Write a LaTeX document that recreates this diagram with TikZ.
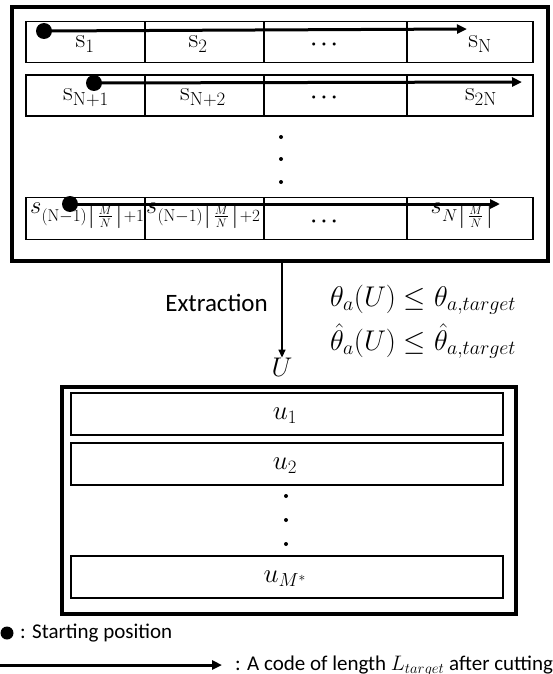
\RequirePackage{fix-cm}
\documentclass[tikz,border=0pt]{standalone}
\usepackage[no-math]{fontspec}
\usepackage{amsmath}
\newfontfamily\calibri{Carlito}
\usetikzlibrary{arrows.meta}
\begin{document}
\begin{tikzpicture}[x=1pt,y=-1pt,
  outerbox/.style={draw, line width=3.3pt, inner sep=0pt},
  cellbox/.style={draw, line width=1.3pt, inner sep=0pt, minimum height=41pt},
  urow/.style={draw, line width=1.8pt, inner sep=0pt, minimum width=432pt, minimum height=42pt},
  codearrow/.style={line width=3pt, -{Triangle[length=10pt,width=9pt]}},
  startdot/.style={circle, fill, inner sep=0pt, minimum size=16pt},
  vdot/.style={circle, fill, inner sep=0pt, minimum size=4pt},
  slbl/.style={inner sep=0pt, font=\fontsize{27}{30}\selectfont},
  dotslbl/.style={inner sep=0pt, font=\fontsize{20}{24}\selectfont},
  bigsub/.style={inner sep=0pt, font=\fontsize{24.5}{28}\selectfont},
  ulbl/.style={inner sep=0pt, font=\fontsize{27}{30}\selectfont},
  sans/.style={inner sep=0pt, font=\calibri\fontsize{25}{28}\selectfont},
  legend/.style={inner sep=0pt, font=\calibri\fontsize{21}{25}\selectfont},
  formula/.style={inner sep=0pt, font=\fontsize{28.5}{32}\selectfont},
]
\useasboundingbox (0,0) rectangle (552,674);

% ---------- top box ----------
\node[outerbox, minimum width=536pt, minimum height=254pt] (topbox) at (280,134) {};

% row 1
\node[cellbox, minimum width=119pt] (r1c1) at (85.5,42) {};
\node[cellbox, minimum width=119pt] (r1c2) at (204.5,42) {};
\node[cellbox, minimum width=143pt] (r1c3) at (335.5,42) {};
\node[cellbox, minimum width=126pt] (r1c4) at (470,42) {};
\node[slbl, anchor=base] (s1) at (85,48) {$\mathrm{s}_{1}$};
\node[slbl, anchor=base] (s2) at (198,48) {$\mathrm{s}_{2}$};
\node[dotslbl] (d1) at (326,45) {$\boldsymbol{\cdots}$};
\node[slbl, anchor=base] (sN) at (480,48) {$\mathrm{s}_{\mathrm{N}}$};

% row 2
\node[cellbox, minimum width=119pt] (r2c1) at (85.5,95.5) {};
\node[cellbox, minimum width=119pt] (r2c2) at (204.5,95.5) {};
\node[cellbox, minimum width=143pt] (r2c3) at (335.5,95.5) {};
\node[cellbox, minimum width=126pt] (r2c4) at (470,95.5) {};
\node[slbl, anchor=base] (sN1) at (86,101) {$\mathrm{s}_{\mathrm{N}+1}$};
\node[slbl, anchor=base] (sN2) at (203,101) {$\mathrm{s}_{\mathrm{N}+2}$};
\node[dotslbl] (d2) at (326,98) {$\boldsymbol{\cdots}$};
\node[slbl, anchor=base] (s2N) at (481,101) {$\mathrm{s}_{2\mathrm{N}}$};

% vertical dots
\node[vdot] (tv1) at (281,137) {};
\node[vdot] (tv2) at (281,159) {};
\node[vdot] (tv3) at (281,182) {};

% row 3
\node[cellbox, minimum width=119pt, minimum height=42pt] (r3c1) at (85.5,218.5) {};
\node[cellbox, minimum width=119pt, minimum height=42pt] (r3c2) at (204.5,218.5) {};
\node[cellbox, minimum width=143pt, minimum height=42pt] (r3c3) at (335.5,218.5) {};
\node[cellbox, minimum width=126pt, minimum height=42pt] (r3c4) at (470,218.5) {};
\node[bigsub, anchor=base west] (sk1) at (30,213) {$s_{(\mathrm{N}-1)\left\lceil\frac{M}{N}\right\rceil+1}$};
\node[bigsub, anchor=base west] (sk2) at (146,213) {$s_{(\mathrm{N}-1)\left\lceil\frac{M}{N}\right\rceil+2}$};
\node[dotslbl] (d3) at (326,222) {$\boldsymbol{\cdots}$};
\node[bigsub, anchor=base east] (skN) at (495,213) {$s_{N\left\lceil\frac{M}{N}\right\rceil}$};

% code arrows with starting dots
\node[startdot] (p1) at (44,31) {};
\coordinate (e1) at (467,29);
\draw[codearrow] (p1.center) -- (e1);
\node[startdot] (p2) at (94,83) {};
\coordinate (e2) at (522,82);
\draw[codearrow] (p2.center) -- (e2);
\node[startdot] (p3) at (70,204) {};
\coordinate (e3) at (500,204);
\draw[codearrow] (p3.center) -- (e3);

% ---------- extraction ----------
\node[inner sep=0pt] (U) at (282,367) {\fontsize{27}{30}\selectfont$U$};
\draw[line width=1.4pt, -{Triangle[length=8pt,width=7pt]}] (topbox.south -| U) -- (U.north);
\node[sans, anchor=east] (ext) at (268,303) {Extraction};
\node[formula, anchor=west] (f1) at (330,300) {$\theta_a(U)\le\theta_{a,target}$};
\node[formula, anchor=west] (f2) at (330,341) {$\hat{\theta}_a(U)\le\hat{\theta}_{a,target}$};

% ---------- bottom box ----------
\node[outerbox, minimum width=454pt, minimum height=227pt] (botbox) at (289,500.5) {};
\node[urow] (u1) at (287,414) {};
\node[urow] (u2) at (287,464) {};
\node[urow] (uM) at (287,577) {};
\node[ulbl] (lu1) at (285,416) {$u_1$};
\node[ulbl] (lu2) at (285,466) {$u_2$};
\node[ulbl] (luM) at (285,579) {$u_{M^*}$};
\node[vdot] (bv1) at (286,496) {};
\node[vdot] (bv2) at (286,520) {};
\node[vdot] (bv3) at (286,544) {};

% ---------- legend ----------
\node[circle, fill, inner sep=0pt, minimum size=13pt] (ldot) at (7,633) {};
\node[legend, anchor=west] (ltxt1) at (20,633) {: Starting position};
\coordinate (la0) at (0,665);
\coordinate (la1) at (222,665);
\draw[codearrow] (la0) -- (la1);
\node[legend, anchor=west] (ltxt2) at (235,666) {: A code of length $L_{target}$ after cutting};
\end{tikzpicture}
\end{document}
